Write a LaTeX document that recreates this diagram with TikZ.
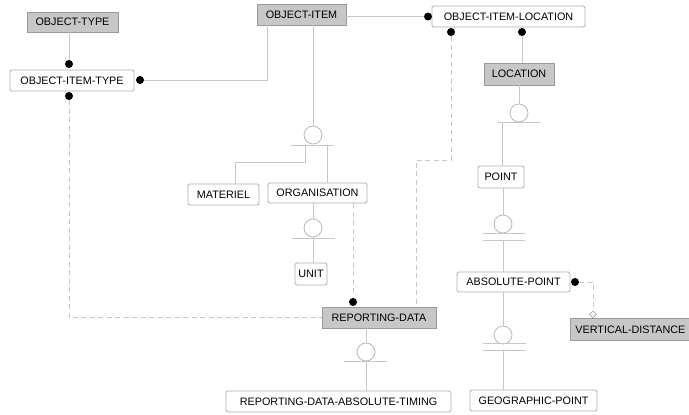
\documentclass[tikz,border=0pt]{standalone}
\usepackage{fontspec}
\setmainfont{Liberation Sans}
\usetikzlibrary{shapes.geometric}
\tikzstyle{entgrey} = [draw=black!40, fill=black!22, line width=0.8pt, inner sep=0pt, minimum height=21pt, text=black, font=\fontsize{10.8}{12}\selectfont]
\tikzstyle{entwhite} = [draw=black!32, fill=white, line width=0.8pt, rounded corners=1.5pt, inner sep=0pt, minimum height=21pt, text=black, font=\fontsize{10.8}{12}\selectfont]
\tikzstyle{link} = [draw=black!22, line width=0.8pt]
\tikzstyle{optlink} = [link, dash pattern=on 5pt off 3.5pt]
\tikzstyle{relend} = [circle, fill=black, minimum size=8pt, inner sep=0pt]
\tikzstyle{catcirc} = [circle, draw=black!28, fill=white, line width=0.8pt, minimum size=18pt, inner sep=0pt]

\begin{document}
\begin{tikzpicture}[x=1pt, y=-1pt]
                \clip (0,0) rectangle (689,415);
                % entities
                \node [entgrey, minimum width=91pt, minimum height=20pt] (ot) at (72.5,22) {OBJECT-TYPE};
                \node [entwhite, minimum width=124pt] (oit) at (72,80.5) {OBJECT-ITEM-TYPE};
                \node [entgrey, minimum width=89pt] (oi) at (301.5,14.5) {OBJECT-ITEM};
                \node [entwhite, minimum width=153pt] (oil) at (508.5,16.5) {OBJECT-ITEM-LOCATION};
                \node [entgrey, minimum width=70pt, minimum height=22pt] (loc) at (519,74) {LOCATION};
                \node [entwhite, minimum width=46pt, minimum height=22pt] (pt) at (501,177) {POINT};
                \node [entwhite, minimum width=113pt, minimum height=20pt] (ap) at (513.5,282) {ABSOLUTE-POINT};
                \node [entgrey, text width=120pt, inner xsep=5pt, align=left, minimum height=22pt, anchor=north west] (vd) at (570,318) {VERTICAL-DISTANCE};
                \node [entwhite, minimum width=127pt] (gp) at (533.5,400.5) {GEOGRAPHIC-POINT};
                \node [entwhite, minimum width=71pt] (mat) at (223.5,194.5) {MATERIEL};
                \node [entwhite, minimum width=99pt, minimum height=20pt] (org) at (317.5,193) {ORGANISATION};
                \node [entwhite, minimum width=32pt, minimum height=22pt] (unit) at (311,274) {UNIT};
                \node [entgrey, minimum width=114pt] (rd) at (379,317.5) {REPORTING-DATA};
                \node [entwhite, minimum width=225pt] (rdat) at (338.5,401.5) {REPORTING-DATA-ABSOLUTE-TIMING};
                % relationship ends
                \node [relend] (d1) at (69,64) {};
                \node [relend] (d2) at (140,80) {};
                \node [relend] (d3) at (69,96) {};
                \node [relend] (d4) at (428,16.5) {};
                \node [relend] (d5) at (451,32) {};
                \node [relend] (d6) at (522,32) {};
                \node [relend] (d7) at (353,302) {};
                \node [relend] (d8) at (575,282) {};
                \node [diamond, draw=black!35, fill=white, line width=0.6pt, minimum size=7pt, inner sep=0pt] (dm) at (593,314.5) {};
                \coordinate (k1) at (267,80);
                \coordinate (k2) at (416,160);
                \coordinate (k4) at (235,162);
                % relationships
                \draw [link] (ot.south -| d1) -- (d1);
                \draw [link] (d2) -- (k1) -- (k1 |- oi.south);
                \draw [optlink] (d3) |- (rd.west);
                \draw [link] (oi.east |- d4) -- (d4);
                \draw [optlink] (d5) -- (d5 |- k2) -- (k2) -- (k2 |- rd.north);
                \draw [link] (d6) -- (d6 |- loc.north);
                \draw [optlink] (org.south -| d7) -- (d7);
                \draw [optlink] (d8) -| (dm.north);
                % categories
                \node [catcirc] (c1) at (313,135) {};
                \node [catcirc] (c2) at (313,228) {};
                \node [catcirc] (c3) at (366,352) {};
                \node [catcirc] (c4) at (519,113) {};
                \node [catcirc] (c5) at (503,224) {};
                \node [catcirc] (c6) at (503,335) {};
                \coordinate (s1) at (305,145);
                \coordinate (s2) at (327,145);
                \coordinate (s4) at (502,122);
                \draw [link] (oi.south -| c1) -- (c1.north);
                \draw [link] (291,145) -- (334,145);
                \draw [link] (s1) |- (k4) -- (k4 |- mat.north);
                \draw [link] (s2) -- (s2 |- org.north);
                \draw [link] (org.south -| c2) -- (c2.north);
                \draw [link] (292,238) -- (335,238);
                \draw [link] (c2.south) -- (c2 |- unit.north);
                \draw [link] (rd.south -| c3) -- (c3.north);
                \draw [link] (344,361) -- (387,361);
                \draw [link] (c3.south) -- (c3 |- rdat.north);
                \draw [link] (loc.south -| c4) -- (c4.north);
                \draw [link] (498,122) -- (540,122);
                \draw [link] (s4) -- (s4 |- pt.north);
                \draw [link] (pt.south -| c5) -- (c5.north);
                \draw [link] (483,233) -- (525,233);
                \draw [link] (483,240) -- (525,240);
                \draw [link] (c5 |- 0,240) -- (c5 |- ap.north);
                \draw [link] (ap.south -| c6) -- (c6.north);
                \draw [link] (483,343) -- (526,343);
                \draw [link] (483,350) -- (526,350);
                \draw [link] (c6 |- 0,350) -- (c6 |- gp.north);
            \end{tikzpicture}
\end{document}
